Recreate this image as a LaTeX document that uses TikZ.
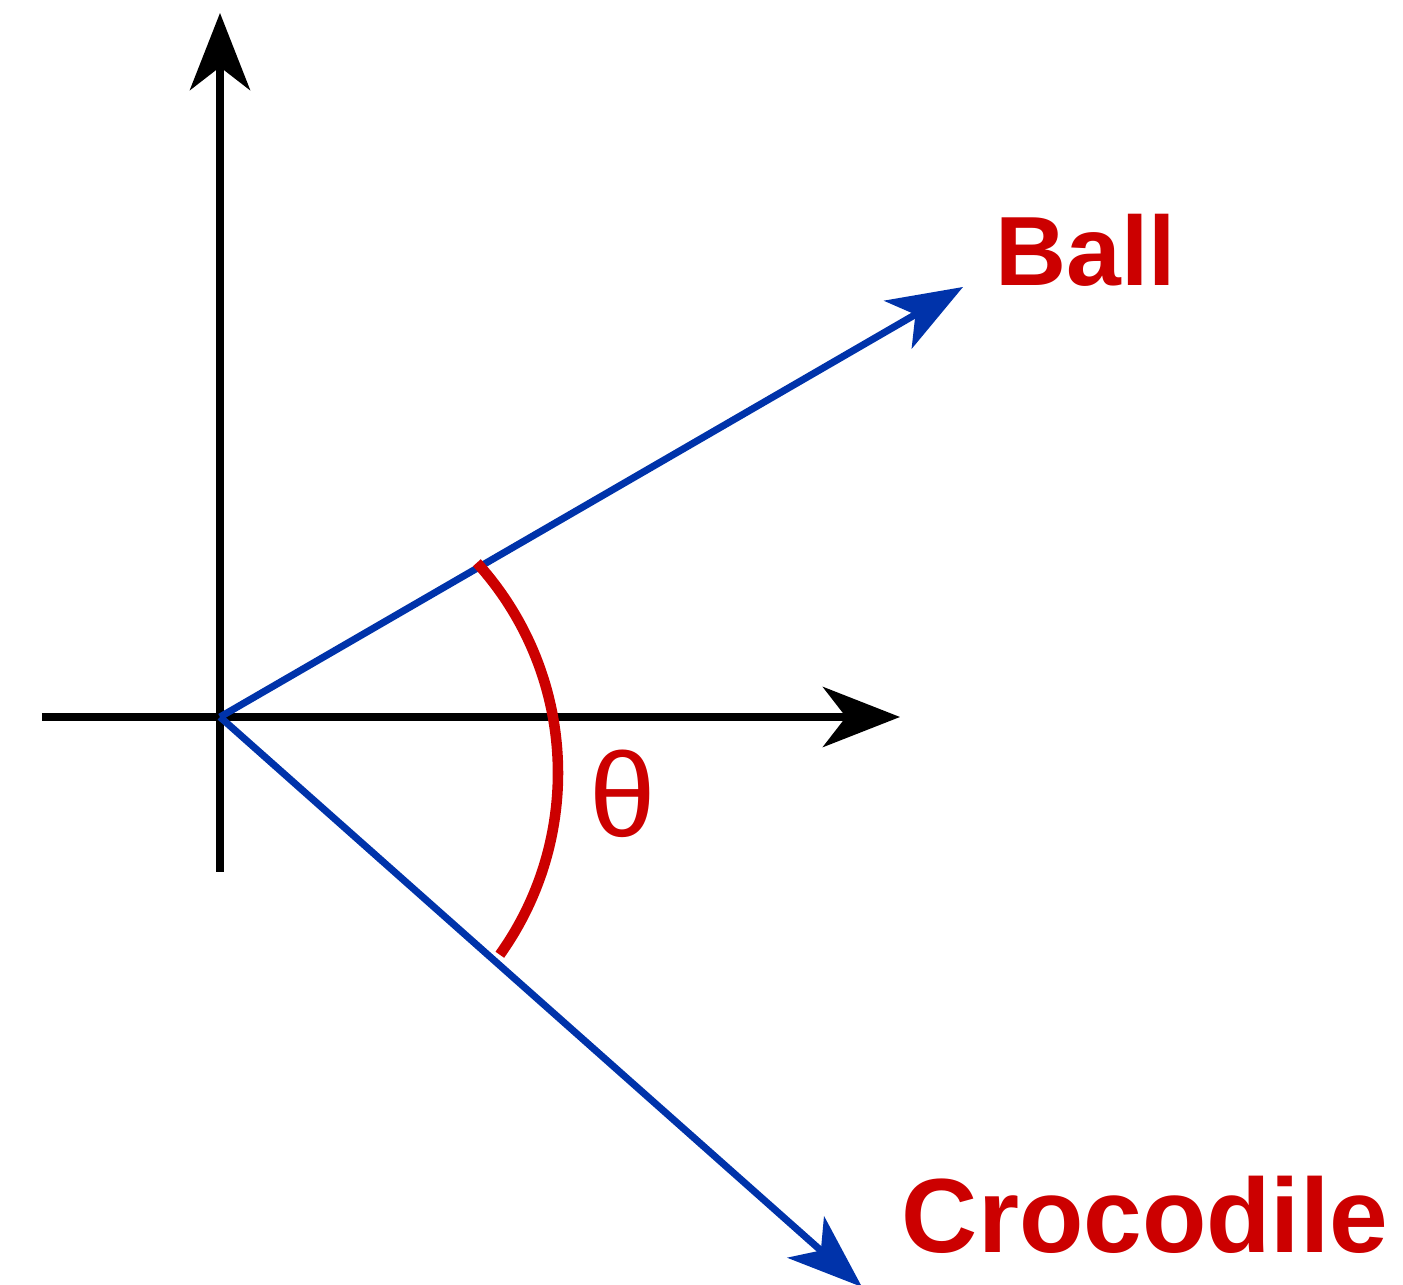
\documentclass[tikz,border=0pt]{standalone}
\usepackage{fontspec}
\setmainfont{Liberation Sans}
\usepackage{tikz}
\usetikzlibrary{arrows.meta,calc}
\usepackage{xcolor}
\definecolor{vecblue}{RGB}{0,51,170}
\definecolor{lblred}{RGB}{204,0,0}

\begin{document}
\begin{tikzpicture}[
    axis/.style={-{Stealth[length=7.7mm, width=6mm, inset=2.3mm]}, line width=2.3pt, black},
    vec/.style={-{Stealth[length=7.5mm, width=5.5mm, inset=2mm]}, line width=2pt, vecblue},
    anglearc/.style={line width=3pt, lblred},
    lbl/.style={text=lblred, font=\bfseries\fontsize{28}{30}\selectfont, inner sep=0pt}
  ]
    \useasboundingbox (-2.20,-5.68) rectangle (11.83,7.17);

    \coordinate (o) at (0,0);
    \coordinate (xstart) at (-1.78,0);
    \coordinate (xend) at (6.80,0);
    \coordinate (ystart) at (0,-1.55);
    \coordinate (yend) at (0,7.04);
    \coordinate (ball) at (7.43,4.30);
    \coordinate (croc) at (6.42,-5.70);
    \coordinate (arcc) at (0.25,-0.56);

    \draw[axis] (xstart) -- (xend);
    \draw[axis] (ystart) -- (yend);
    \draw[vec] (o) -- (ball);
    \draw[vec] (o) -- (croc);

    \draw[anglearc] ($(arcc)+(42.2:3.13)$) arc[start angle=42.2, end angle=-35.5, radius=3.13];

    \node[lbl] (balllbl) at (8.66,4.67) {Ball};
    \node[lbl, font=\bfseries\fontsize{30}{32}\selectfont] (croclbl) at (9.25,-4.98) {Crocodile};
    \node[text=lblred, font=\fontsize{34}{36}\selectfont, inner sep=0pt] (theta) at (4.03,-0.77) {θ};
  \end{tikzpicture}
\end{document}
